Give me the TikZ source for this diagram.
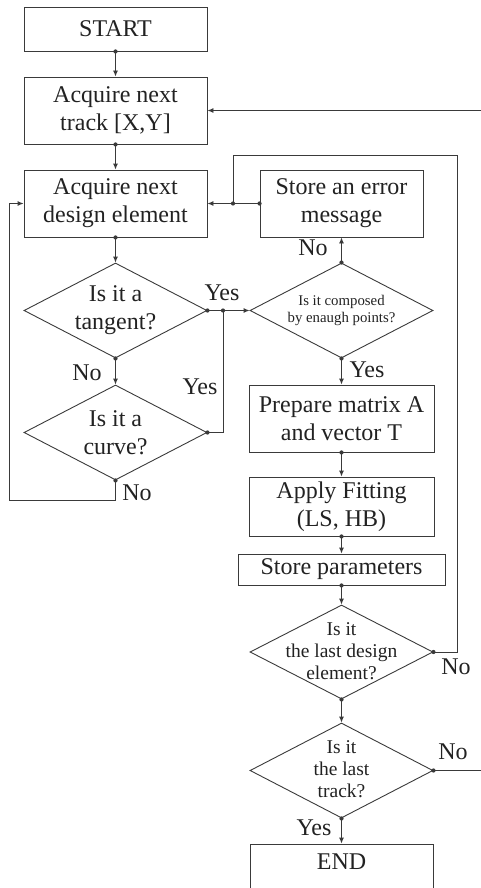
\documentclass[tikz,border=0pt]{standalone}
\usepackage{fontspec}
\setmainfont{Liberation Serif}
\usetikzlibrary{shapes.geometric,arrows.meta}
\definecolor{ln}{HTML}{3A3A3A}
\definecolor{tx}{HTML}{222222}
\newcommand{\fsBig}{\fontsize{24}{28}\selectfont}
\newcommand{\fsMid}{\fontsize{19.5}{21.7}\selectfont}
\newcommand{\fsSmall}{\fontsize{14.8}{17}\selectfont}
\tikzset{
  box/.style={draw=ln, line width=0.9pt, rectangle, inner sep=0pt, align=center, text=tx, font=\fsBig},
  dia/.style={draw=ln, line width=0.9pt, diamond, inner sep=0pt, minimum width=183pt, minimum height=95pt},
  dtext/.style={align=center, text=tx, inner sep=0pt},
  lab/.style={text=tx, font=\fsBig, inner sep=0pt},
  flow/.style={draw=ln, line width=0.9pt, -{Latex[length=6pt,width=5pt]}},
  wire/.style={draw=ln, line width=0.9pt},
  dotc/.style={fill=ln}
}
\begin{document}
\begin{tikzpicture}[x=1pt,y=-1pt]
\useasboundingbox (0,0) rectangle (481,888);
\clip (0,0) rectangle (481,888);
% nodes
\node[box, minimum width=183pt, minimum height=44pt] (start) at (115.5,29) {START};
\node[box, minimum width=183pt, minimum height=67pt] (track) at (115.5,110.5) {Acquire next\\track [X,Y]};
\node[box, minimum width=183pt, minimum height=67pt] (elem) at (115.5,203.5) {Acquire next\\design element};
\node[box, minimum width=163pt, minimum height=67pt] (err) at (341.5,203.5) {Store an error\\message};
\node[dia] (tan) at (115.5,310.5) {};
\node[dtext, font=\fsBig] at (tan) {Is it a\\tangent?};
\node[dia] (cur) at (115.5,432.5) {};
\node[dtext, font=\fsBig] at (cur) {Is it a\\curve?};
\node[dia] (comp) at (341.5,310.5) {};
\node[dtext, font=\fsSmall] at (comp) {Is it composed\\by enaugh points?};
\node[box, minimum width=185pt, minimum height=67pt] (prep) at (341.5,418.5) {Prepare matrix A\\and vector T};
\node[box, minimum width=185pt, minimum height=59pt] (fit) at (341.5,506.5) {Apply Fitting\\(LS, HB)};
\node[box, minimum width=207pt, minimum height=31pt] (store) at (341.5,569.5) {Store parameters};
\node[dia, minimum height=94pt] (ld) at (341.5,652) {};
\node[dtext, font=\fsMid] at (341.5,651) {Is it\\the last design\\element?};
\node[dia] (lt) at (341.5,770.5) {};
\node[dtext, font=\fsMid] at (341.5,769) {Is it\\the last\\track?};
\node[box, minimum width=183pt, minimum height=72pt] (end) at (341.5,880) {};
\node[dtext, font=\fsBig] at (341.5,862) {END};
% free ends and corners
\coordinate (inR) at (481,110.5);
\coordinate (outR) at (481,770.5);
\coordinate (j1) at (233,203.5);
\coordinate (j2) at (223,310.5);
\coordinate (loopc) at (457,155);
\coordinate (lc1) at (115.5,500);
\coordinate (lc2) at (9,500);
% connectors
\draw[flow] (start.south) -- (track.north);
\draw[flow] (inR) -- (track.east);
\draw[flow] (track.south) -- (elem.north);
\draw[flow] (err.west) -- (elem.east);
\draw[wire] (ld.east) -| (loopc) -| (j1);
\draw[flow] (elem.south) -- (tan.north);
\draw[flow] (tan.east) -- (comp.west);
\draw[wire] (cur.east) -| (j2);
\draw[flow] (tan.south) -- (cur.north);
\draw[flow] (cur.south) -- (lc1) -- (lc2) |- (elem.west);
\draw[flow] (comp.north) -- (err.south);
\draw[flow] (comp.south) -- (prep.north);
\draw[flow] (prep.south) -- (fit.north);
\draw[flow] (fit.south) -- (store.north);
\draw[flow] (store.south) -- (ld.north);
\draw[flow] (ld.south) -- (lt.north);
\draw[wire] (lt.east) -- (outR);
\draw[flow] (lt.south) -- (end.north);
% dots
\foreach \p in {start.south, track.south, err.west, j1, elem.south, tan.east, j2, cur.east, tan.south, cur.south, comp.north, comp.south, prep.south, fit.south, store.south, ld.east, ld.south, lt.east, lt.south}
  \fill[dotc] (\p) circle (2.1pt);
% labels
\node[lab] at (313,248) {No};
\node[lab] at (367,370) {Yes};
\node[lab] at (222,293) {Yes};
\node[lab] at (87,373) {No};
\node[lab] at (200,387) {Yes};
\node[lab] at (137,493) {No};
\node[lab] at (456,667) {No};
\node[lab] at (453,752) {No};
\node[lab] at (314,828) {Yes};
\end{tikzpicture}
\end{document}
